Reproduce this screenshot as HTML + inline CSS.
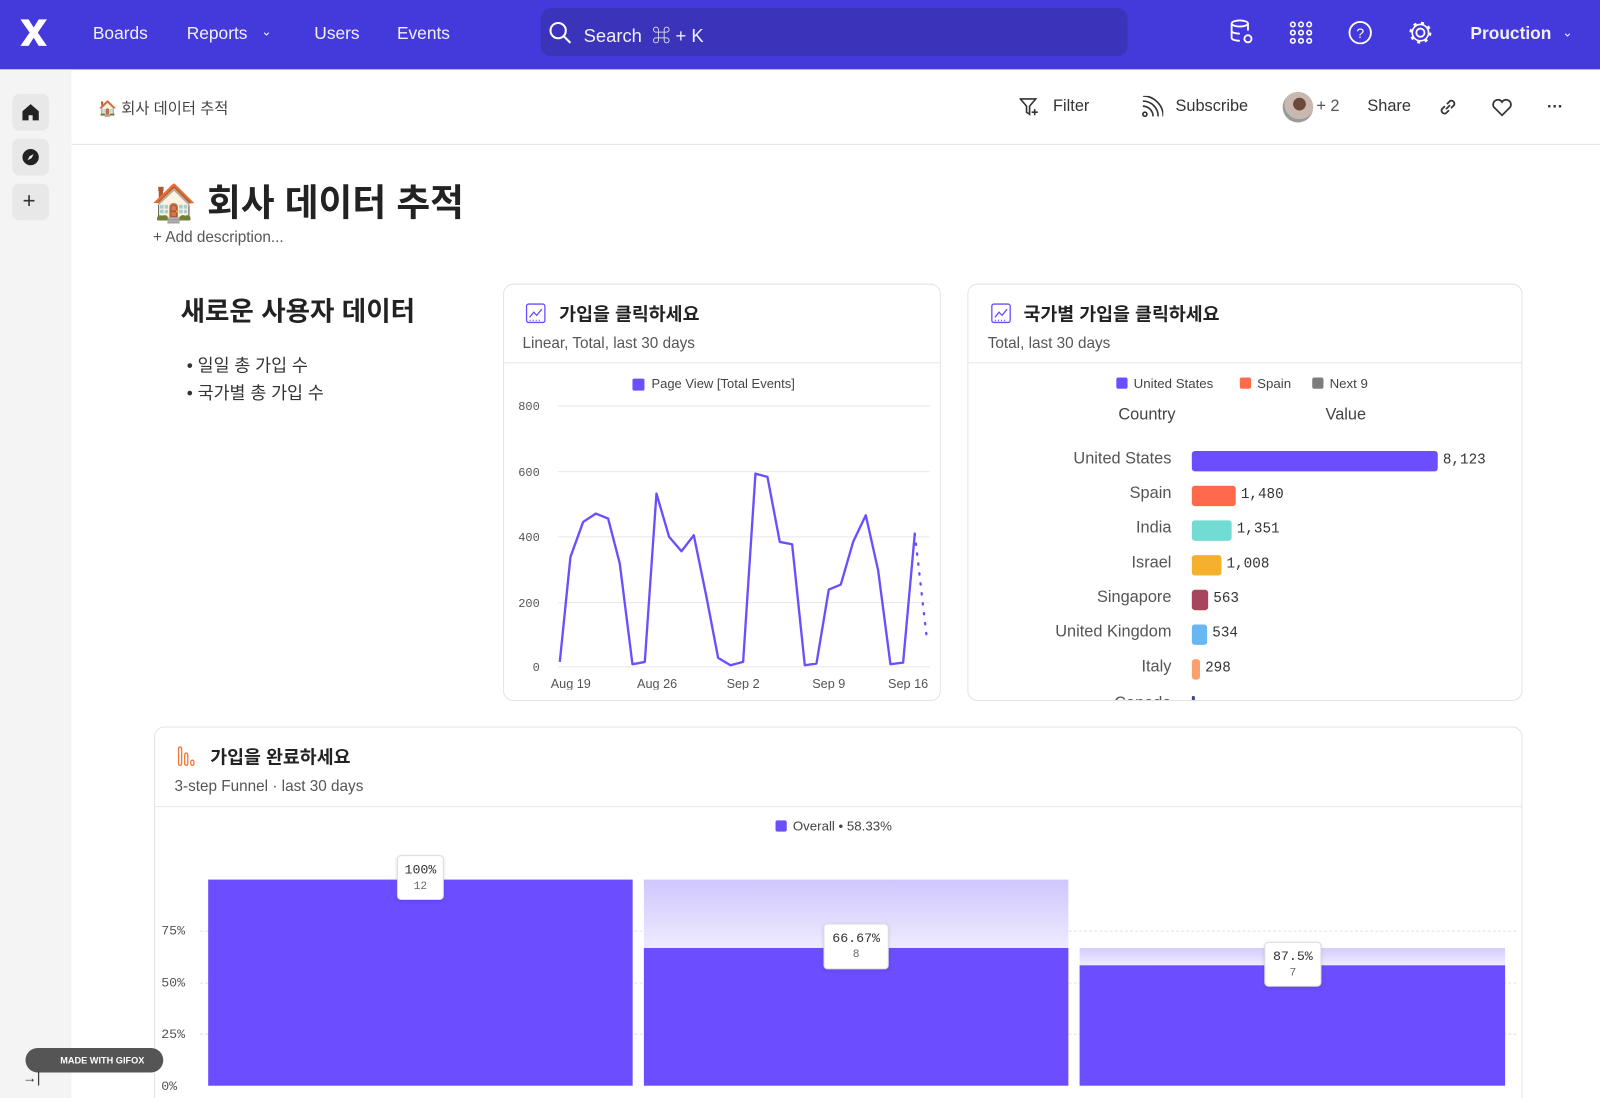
<!DOCTYPE html>
<html><head><meta charset="utf-8">
<style>
*{box-sizing:border-box;margin:0;padding:0}
html,body{width:1600px;height:1098px;overflow:hidden;background:#fff}
body{font-family:"Liberation Sans","Noto Sans CJK KR",sans-serif;color:#222}
#w{position:absolute;left:0;top:0;width:1568px;height:1076px;transform:scale(1.020408);transform-origin:0 0;overflow:hidden}
.a{position:absolute;white-space:nowrap}
.nav{left:0;top:0;width:1568px;height:68px;background:#4439db}
.nv{color:#fff;font-size:17px;top:23px;opacity:.93}
.card{position:absolute;border:1px solid #e4e4e4;border-radius:10px;background:#fff}
.sq{display:inline-block;width:11px;height:11px;border-radius:2px;vertical-align:-1px;margin-right:6px}
.row{position:absolute;left:0;width:100%;height:20px}
.lbl{position:absolute;right:calc(100% - 1148px);font-size:16px;color:#555;top:-1px}
.bar{position:absolute;left:1168px;top:0;height:20px;border-radius:3px}
.val{position:absolute;font-size:14px;color:#333;top:1px;font-family:"Liberation Mono",monospace}
.fb{position:absolute;background:#6c4dff}
.tip{position:absolute;background:#fff;border:1px solid #ddd;border-radius:4px;text-align:center;font-family:"Liberation Mono",monospace;box-shadow:0 1px 3px rgba(0,0,0,.12)}
.tip b{display:block;font-weight:normal;font-size:13px;color:#333;margin-top:6px}
.tip i{display:block;font-style:normal;font-size:11px;color:#666;margin-top:3px}
.yl{position:absolute;left:158px;font-size:13px;color:#555;font-family:"Liberation Mono",monospace}
.sb{position:absolute;left:12px;width:36px;height:36px;border-radius:7px;background:#e8e8e8}
</style></head><body><div id="w">
<div class="a nav"></div>
<svg class="a" style="left:18px;top:17px" width="30" height="30" viewBox="0 0 30 30"><path d="M2 2 L10 2 L15 10 L20 2 L28 2 L19 15 L28 28 L20 28 L15 20 L10 28 L2 28 L11 15Z" fill="#fff"/></svg>
<div class="a nv" style="left:91px">Boards</div>
<div class="a nv" style="left:183px">Reports</div>
<div class="a nv" style="left:256px;font-size:12px;top:24px">&#8964;</div>
<div class="a nv" style="left:308px">Users</div>
<div class="a nv" style="left:389px">Events</div>
<div class="a" style="left:530px;top:8px;width:575px;height:47px;background:#3b33b9;border-radius:10px"></div>
<svg class="a" style="left:537px;top:20px" width="24" height="24"><circle cx="10" cy="10" r="7.5" stroke="#fff" stroke-width="2" fill="none"/><line x1="15.5" y1="15.5" x2="22" y2="22" stroke="#fff" stroke-width="2"/></svg>
<div class="a nv" style="left:572px;font-size:18px;top:21px">Search &nbsp;⌘ + K</div>
<svg class="a" style="left:1204px;top:18px" width="26" height="28" fill="none" stroke="#fff" stroke-width="1.8"><ellipse cx="11" cy="5" rx="8" ry="3"/><path d="M3 5v14c0 2 4 3 8 3M19 5v7M3 12c0 2 4 3 8 3"/><circle cx="19" cy="20" r="3.5"/></svg>
<svg class="a" style="left:1263px;top:20px" width="24" height="24"><g fill="none" stroke="#fff" stroke-width="1.6"><circle cx="4" cy="4" r="2.2"/><circle cx="12" cy="4" r="2.2"/><circle cx="20" cy="4" r="2.2"/><circle cx="4" cy="12" r="2.2"/><circle cx="12" cy="12" r="2.2"/><circle cx="20" cy="12" r="2.2"/><circle cx="4" cy="20" r="2.2"/><circle cx="12" cy="20" r="2.2"/><circle cx="20" cy="20" r="2.2"/></g></svg>
<svg class="a" style="left:1321px;top:20px" width="24" height="24"><circle cx="12" cy="12" r="10.5" stroke="#fff" stroke-width="1.8" fill="none"/><text x="12" y="17" text-anchor="middle" fill="#fff" font-size="14" font-family="Liberation Sans">?</text></svg>
<svg class="a" style="left:1379px;top:19px" width="26" height="26"><circle cx="13" cy="13" r="4" stroke="#fff" stroke-width="1.8" fill="none"/><circle cx="13" cy="13" r="9.5" stroke="#fff" stroke-width="2.5" stroke-dasharray="3 4.5" fill="none"/><circle cx="13" cy="13" r="8" stroke="#fff" stroke-width="1.6" fill="none"/></svg>
<div class="a nv" style="left:1441px;font-weight:bold;font-size:17px">Prouction</div>
<div class="a nv" style="left:1531px;font-size:12px;top:25px">&#8964;</div>

<div class="a" style="left:0;top:68px;width:70px;height:1010px;background:#f4f4f4"></div>
<div class="sb" style="top:92px"></div><div class="sb" style="top:136px"></div><div class="sb" style="top:180px"></div>
<svg class="a" style="left:21px;top:101px" width="18" height="18"><path d="M9 1 L17 8 V17 H11 V12 H7 V17 H1 V8Z" fill="#222"/></svg>
<svg class="a" style="left:21px;top:145px" width="18" height="18"><circle cx="9" cy="9" r="8" fill="#222"/><path d="M12 6 L8 8 L6 12 L10 10Z" fill="#e8e8e8"/></svg>
<div class="a" style="left:22px;top:184px;font-size:22px;color:#333">+</div>

<div class="a" style="left:70px;top:141px;width:1498px;height:1px;background:#e6e6e6"></div>
<div class="a" style="left:96px;top:95px;font-size:15px;color:#444">🏠 회사 데이터 추적</div>
<svg class="a" style="left:999px;top:95px" width="22" height="20" fill="none" stroke="#333" stroke-width="1.6"><path d="M1 2H16L10 9V17L7 15V9Z"/><path d="M15 12v6M12 15h6"/></svg>
<div class="a" style="left:1032px;top:96px;font-size:16px;color:#333">Filter</div>
<svg class="a" style="left:1118px;top:94px" width="22" height="22" fill="none" stroke="#333" stroke-width="1.6"><circle cx="4" cy="18" r="2"/><path d="M2 10a10 10 0 0 1 10 10M2 5a15 15 0 0 1 15 15M2 0a20 20 0 0 1 20 20"/></svg>
<div class="a" style="left:1152px;top:96px;font-size:16px;color:#333">Subscribe</div>
<div class="a" style="left:1257px;top:90px;width:30px;height:30px;border-radius:50%;background:radial-gradient(circle at 55% 40%,#6b4a3a 0 25%,#c8b8b0 26% 60%,#9a9a9a 61%)"></div>
<div class="a" style="left:1290px;top:96px;font-size:16px;color:#555">+ 2</div>
<div class="a" style="left:1340px;top:96px;font-size:16px;color:#333">Share</div>
<svg class="a" style="left:1409px;top:95px" width="20" height="20" fill="none" stroke="#333" stroke-width="1.7"><path d="M8 12l4-4M7 9l-3 3a3 3 0 0 0 4 4l3-3M13 11l3-3a3 3 0 0 0-4-4l-3 3"/></svg>
<svg class="a" style="left:1461px;top:95px" width="22" height="20" fill="none" stroke="#333" stroke-width="1.7"><path d="M11 18L3 10a4.5 4.5 0 0 1 8-5a4.5 4.5 0 0 1 8 5Z"/></svg>
<div class="a" style="left:1516px;top:97px;font-size:16px;color:#333;font-weight:bold">···</div>

<div class="a" style="left:148px;top:170px;font-size:36px;font-weight:bold;color:#222">🏠 회사 데이터 추적</div>
<div class="a" style="left:150px;top:224px;font-size:15px;color:#555">+ Add description...</div>

<div class="a" style="left:177px;top:285px;font-size:26px;font-weight:bold;color:#222">새로운 사용자 데이터</div>
<div class="a" style="left:183px;top:344px;font-size:17px;color:#333">• 일일 총 가입 수</div>
<div class="a" style="left:183px;top:371px;font-size:17px;color:#333">• 국가별 총 가입 수</div>

<!-- card1 -->
<div class="card" style="left:493px;top:278px;width:429px;height:409px"></div>
<svg class="a" style="left:515px;top:297px" width="20" height="20" fill="none" stroke="#6c4dff" stroke-width="1.3"><rect x="1" y="1" width="18" height="18" rx="2"/><path d="M4 14l4-5 3 3 5-6"/><path d="M4 17h12" stroke-dasharray="1 2"/></svg>
<div class="a" style="left:548px;top:294px;font-size:18px;font-weight:bold;color:#222">가입을 클릭하세요</div>
<div class="a" style="left:512px;top:328px;font-size:15px;color:#555">Linear, Total, last 30 days</div>
<div class="a" style="left:494px;top:355px;width:427px;height:1px;background:#e6e6e6"></div>
<svg class="a" style="left:480.2px;top:352.8px" width="431.2" height="323.5" viewBox="0 0 1320 990" font-family="Liberation Mono,monospace">
<rect x="428" y="55" width="36" height="36" rx="5" fill="#6c4dff"/>
<text x="485" y="84" font-size="39" fill="#444" font-family="Liberation Sans">Page View [Total Events]</text>
<g stroke="#e8e8e8" stroke-width="3"><line x1="205" y1="137" x2="1320" y2="137"/><line x1="205" y1="334" x2="1320" y2="334"/><line x1="205" y1="530" x2="1320" y2="530"/><line x1="205" y1="727" x2="1320" y2="727"/><line x1="205" y1="920" x2="1320" y2="920"/></g>
<g font-size="36" fill="#555" text-anchor="end"><text x="150" y="150">800</text><text x="150" y="347">600</text><text x="150" y="543">400</text><text x="150" y="740">200</text><text x="150" y="933">0</text></g>
<g font-size="38" fill="#555" text-anchor="middle" font-family="Liberation Sans"><text x="243" y="983">Aug 19</text><text x="502" y="983">Aug 26</text><text x="760" y="983">Sep 2</text><text x="1017" y="983">Sep 9</text><text x="1255" y="983">Sep 16</text></g>
<polyline fill="none" stroke="#6c4dff" stroke-width="7" stroke-linejoin="round" points="210,905 242,590 280,485 318,460 355,475 390,610 428,912 465,905 500,400 538,530 575,573 612,525 650,710 685,893 722,915 760,905 797,340 833,350 870,545 907,552 945,915 980,910 1017,688 1053,673 1090,545 1128,465 1165,630 1202,912 1240,907 1275,520"/>
<line x1="1275" y1="520" x2="1310" y2="825" stroke="#6c4dff" stroke-width="7" stroke-dasharray="4 26" stroke-linecap="round"/>
</svg>

<!-- card2 -->
<div class="card" style="left:948px;top:278px;width:544px;height:409px"></div>
<svg class="a" style="left:971px;top:297px" width="20" height="20" fill="none" stroke="#6c4dff" stroke-width="1.3"><rect x="1" y="1" width="18" height="18" rx="2"/><path d="M4 14l4-5 3 3 5-6"/><path d="M4 17h12" stroke-dasharray="1 2"/></svg>
<div class="a" style="left:1003px;top:294px;font-size:18px;font-weight:bold;color:#222">국가별 가입을 클릭하세요</div>
<div class="a" style="left:968px;top:328px;font-size:15px;color:#555">Total, last 30 days</div>
<div class="a" style="left:949px;top:355px;width:542px;height:1px;background:#e6e6e6"></div>
<div class="a" style="left:1094px;top:368px;font-size:13px;color:#444"><span class="sq" style="background:#6c4dff"></span>United States</div>
<div class="a" style="left:1215px;top:368px;font-size:13px;color:#444"><span class="sq" style="background:#ff6a4a"></span>Spain</div>
<div class="a" style="left:1286px;top:368px;font-size:13px;color:#444"><span class="sq" style="background:#7d7d7d"></span>Next 9</div>
<div class="a" style="left:1096px;top:398px;font-size:16px;color:#444">Country</div>
<div class="a" style="left:1299px;top:398px;font-size:16px;color:#444">Value</div>
<div class="a" style="left:0;top:0;width:1568px;height:686px;overflow:hidden">
<div class="row" style="top:442px"><div class="lbl">United States</div><div class="bar" style="width:241px;background:#6c4dff"></div><div class="val" style="left:1414px">8,123</div></div>
<div class="row" style="top:476px"><div class="lbl">Spain</div><div class="bar" style="width:43px;background:#ff6a4a"></div><div class="val" style="left:1216px">1,480</div></div>
<div class="row" style="top:510px"><div class="lbl">India</div><div class="bar" style="width:39px;background:#72dcd3"></div><div class="val" style="left:1212px">1,351</div></div>
<div class="row" style="top:544px"><div class="lbl">Israel</div><div class="bar" style="width:29px;background:#f5b02e"></div><div class="val" style="left:1202px">1,008</div></div>
<div class="row" style="top:578px"><div class="lbl">Singapore</div><div class="bar" style="width:16px;background:#a8455c"></div><div class="val" style="left:1189px">563</div></div>
<div class="row" style="top:612px"><div class="lbl">United Kingdom</div><div class="bar" style="width:15px;background:#68b7f0"></div><div class="val" style="left:1188px">534</div></div>
<div class="row" style="top:646px"><div class="lbl">Italy</div><div class="bar" style="width:8px;background:#f9a06e"></div><div class="val" style="left:1181px">298</div></div>
<div class="row" style="top:682px"><div class="lbl">Canada</div><div class="bar" style="width:3px;background:#3b4a8a"></div></div>
</div>

<!-- card3 -->
<div class="card" style="left:151px;top:712px;width:1341px;height:400px"></div>
<svg class="a" style="left:174px;top:731px" width="20" height="20" fill="none" stroke="#f07a3a" stroke-width="1.3"><rect x="1" y="1" width="3" height="18" rx="1.5"/><rect x="7" y="7" width="3" height="12" rx="1.5"/><rect x="13" y="14" width="3" height="5" rx="1.5"/></svg>
<div class="a" style="left:206px;top:728px;font-size:18px;font-weight:bold;color:#222">가입을 완료하세요</div>
<div class="a" style="left:171px;top:762px;font-size:15px;color:#555">3-step Funnel · last 30 days</div>
<div class="a" style="left:152px;top:790px;width:1339px;height:1px;background:#e6e6e6"></div>
<div class="a" style="left:760px;top:802px;font-size:13px;color:#444"><span class="sq" style="background:#6c4dff"></span>Overall • 58.33%</div>
<div class="yl" style="top:905px">75%</div><div class="yl" style="top:956px">50%</div><div class="yl" style="top:1006px">25%</div><div class="yl" style="top:1057px">0%</div>
<div class="a" style="left:196px;top:912px;width:1290px;border-top:1px dashed #e2e2e2"></div>
<div class="a" style="left:196px;top:963px;width:1290px;border-top:1px dashed #e2e2e2"></div>
<div class="a" style="left:196px;top:1013px;width:1290px;border-top:1px dashed #e2e2e2"></div>
<div class="fb" style="left:204px;top:862px;width:416px;height:202px"></div>
<div class="fb" style="left:631px;top:862px;width:416px;height:67px;background:linear-gradient(#cfc6fd,#eeebff)"></div>
<div class="fb" style="left:631px;top:929px;width:416px;height:135px"></div>
<div class="fb" style="left:1058px;top:929px;width:417px;height:17px;background:linear-gradient(#d4ccfd,#efecff)"></div>
<div class="fb" style="left:1058px;top:946px;width:417px;height:118px"></div>
<div class="tip" style="left:389px;top:838px;width:46px;height:44px"><b>100%</b><i>12</i></div>
<div class="tip" style="left:807px;top:905px;width:64px;height:45px"><b>66.67%</b><i>8</i></div>
<div class="tip" style="left:1239px;top:923px;width:56px;height:44px"><b>87.5%</b><i>7</i></div>

<div class="a" style="left:25px;top:1027px;width:135px;height:24px;background:#555;border-radius:12px;color:#fff;font-size:9px;font-weight:bold;padding:7px 0 0 34px">MADE WITH GIFOX</div>
<div class="a" style="left:22px;top:1048px;font-size:14px;color:#333">→|</div>
</div></body></html>
